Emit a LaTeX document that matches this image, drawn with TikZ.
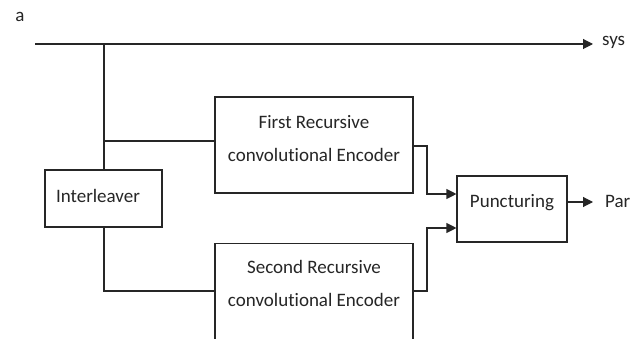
\documentclass[tikz,border=0pt]{standalone}
\usepackage{fontspec}
\setmainfont[Ligatures=NoCommon]{Carlito}
\usetikzlibrary{arrows.meta}
\definecolor{ink}{HTML}{262626}
\tikzset{
  blk/.style={draw=ink, line width=1.1pt, fill=white, inner sep=0pt},
  txt/.style={text=ink, font=\fontsize{19}{33}\selectfont, align=center, inner sep=0pt},
  wire/.style={draw=ink, line width=1.1pt},
  arr/.style={wire, -{Triangle[length=10pt,width=10pt]}}
}
\begin{document}
\begin{tikzpicture}[x=1pt,y=-1pt]
\useasboundingbox (0,0) rectangle (641,339);
\clip (0,0) rectangle (641,339);
\fill[white] (0,0) rectangle (641,339);
% boxes
\node[blk, minimum width=198, minimum height=96] (f1) at (314,145) {};
\node[txt] (f1t) at (314,139) {First Recursive\\convolutional Encoder};
\node[blk, minimum width=117, minimum height=57] (il) at (103.5,198.5) {};
\node[txt] (ilt) at (98,196) {Interleaver};
\node[blk, minimum width=198, minimum height=130, anchor=north] (s2) at (314,243) {};
\node[txt] (s2t) at (314,283) {Second Recursive\\convolutional Encoder};
\node[blk, minimum width=110, minimum height=66] (pu) at (512,209) {};
\node[txt] (put) at (512,203) {Puncturing};
% labels
\node[txt] (a) at (20,17) {a};
\node[txt, anchor=west] (sys) at (602,42) {sys};
\node[txt, anchor=west] (par) at (605,201) {Par};
% coordinates
\coordinate (in) at (35,44);
\coordinate (j1) at (104,44);
\coordinate (j2) at (104,141);
\coordinate (sysend) at (593,44);
\coordinate (parend) at (593,202);
% connectors
\draw[arr] (in) -- (sysend);
\draw[wire] (j1) -- (j1 |- il.north);
\draw[wire] (j2) -- (j2 -| f1.west);
\draw[wire] (il.south -| j2) |- (s2.west |- 0,291);
\draw[arr] (f1.east |- 0,146) -- (427,146) |- (pu.west |- 0,194);
\draw[arr] (s2.east |- 0,291) -- (427,291) |- (pu.west |- 0,228);
\draw[arr] (pu.east |- parend) -- (parend);
\end{tikzpicture}
\end{document}
